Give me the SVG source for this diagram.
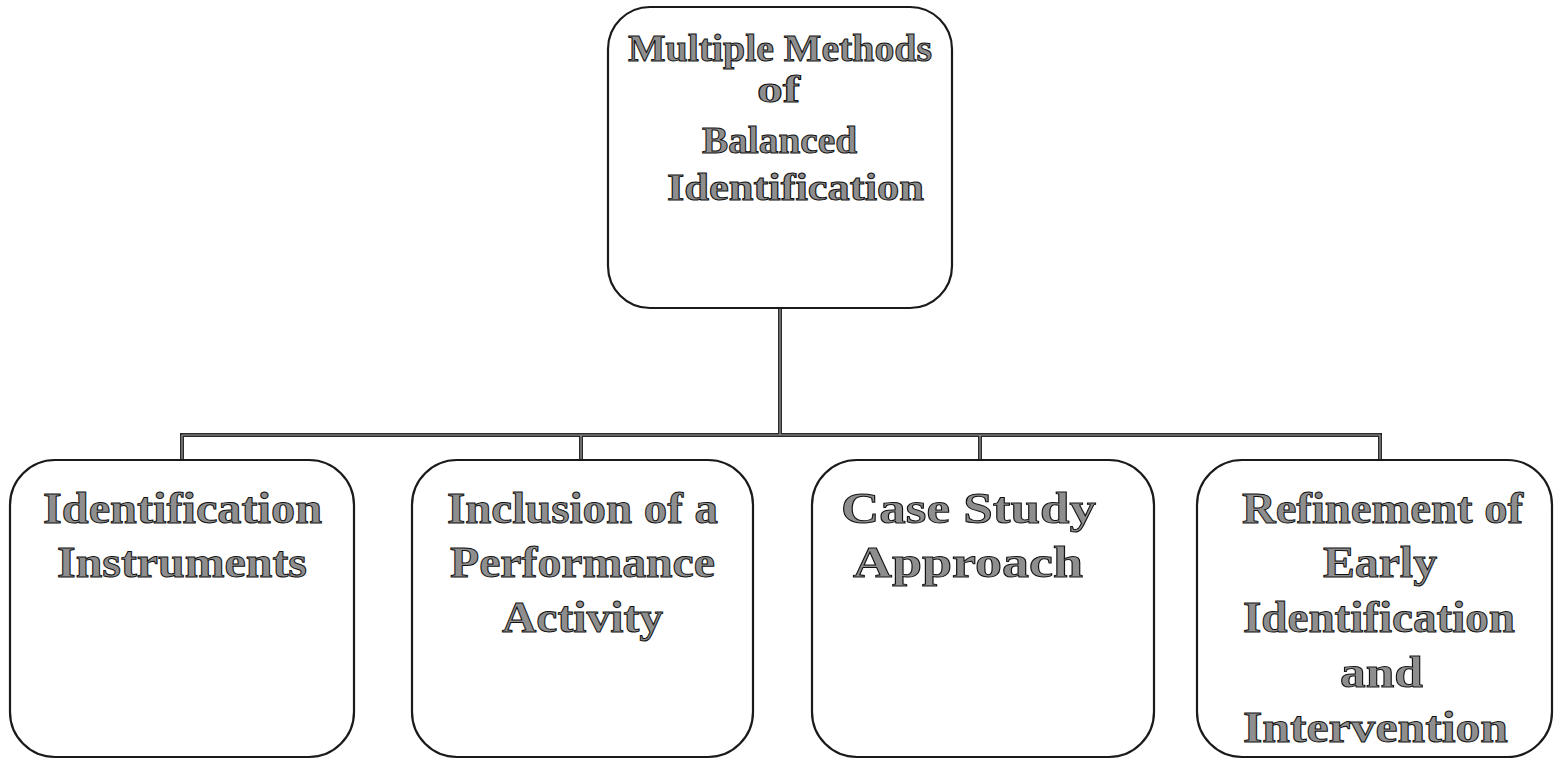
<svg xmlns="http://www.w3.org/2000/svg" width="1559" height="759" viewBox="0 0 1559 759">
<style>
.box{fill:#fff;stroke:#1a1a1a;stroke-width:2.2}
.t{font-family:"Liberation Serif","Times New Roman",serif;font-weight:bold;fill:#8e8e8e;stroke:#111;stroke-width:1;text-anchor:start}
.top{font-size:38px}
.bt{font-size:45px}
.conn{fill:none;stroke:#2a2a2a;stroke-width:4}
.conn2{fill:none;stroke:#9a9a9a;stroke-width:1.2}
</style>
<rect width="1559" height="759" fill="#fff"/>
<g id="connectors">
<path class="conn" d="M780,308 V435 M182,435 H1380 M182,433 V461 M581,433 V461 M980,433 V461 M1380,433 V461"/>
<path class="conn2" d="M780,308 V435 M182,435 H1380 M182,435 V461 M581,435 V461 M980,435 V461 M1380,435 V461"/>
</g>
<g id="node-top">
<rect class="box" x="608" y="7" width="344" height="301" rx="42" ry="42"/>
<text class="t top" x="628" y="61" textLength="304" lengthAdjust="spacingAndGlyphs">Multiple Methods</text>
<text class="t top" x="757" y="102" textLength="43" lengthAdjust="spacingAndGlyphs">of</text>
<text class="t top" x="702" y="153" textLength="155" lengthAdjust="spacingAndGlyphs">Balanced</text>
<text class="t top" x="667" y="200" textLength="257" lengthAdjust="spacingAndGlyphs">Identification</text>
</g>
<g id="node-1">
<rect class="box" x="10" y="460" width="344" height="297" rx="45" ry="45"/>
<text class="t bt" x="43" y="523" textLength="279" lengthAdjust="spacingAndGlyphs">Identification</text>
<text class="t bt" x="57" y="577" textLength="250" lengthAdjust="spacingAndGlyphs">Instruments</text>
</g>
<g id="node-2">
<rect class="box" x="412" y="460" width="341" height="297" rx="45" ry="45"/>
<text class="t bt" x="447" y="523" textLength="271" lengthAdjust="spacingAndGlyphs">Inclusion of a</text>
<text class="t bt" x="450" y="577" textLength="265" lengthAdjust="spacingAndGlyphs">Performance</text>
<text class="t bt" x="502" y="632" textLength="161" lengthAdjust="spacingAndGlyphs">Activity</text>
</g>
<g id="node-3">
<rect class="box" x="812" y="460" width="342" height="297" rx="45" ry="45"/>
<text class="t bt" x="841" y="523" textLength="255" lengthAdjust="spacingAndGlyphs">Case Study</text>
<text class="t bt" x="853" y="577" textLength="230" lengthAdjust="spacingAndGlyphs">Approach</text>
</g>
<g id="node-4">
<rect class="box" x="1197" y="460" width="355" height="297" rx="45" ry="45"/>
<text class="t bt" x="1242" y="523" textLength="281" lengthAdjust="spacingAndGlyphs">Refinement of</text>
<text class="t bt" x="1323" y="577" textLength="114" lengthAdjust="spacingAndGlyphs">Early</text>
<text class="t bt" x="1243" y="632" textLength="272" lengthAdjust="spacingAndGlyphs">Identification</text>
<text class="t bt" x="1340" y="687" textLength="83" lengthAdjust="spacingAndGlyphs">and</text>
<text class="t bt" x="1243" y="742" textLength="265" lengthAdjust="spacingAndGlyphs">Intervention</text>
</g>
</svg>
